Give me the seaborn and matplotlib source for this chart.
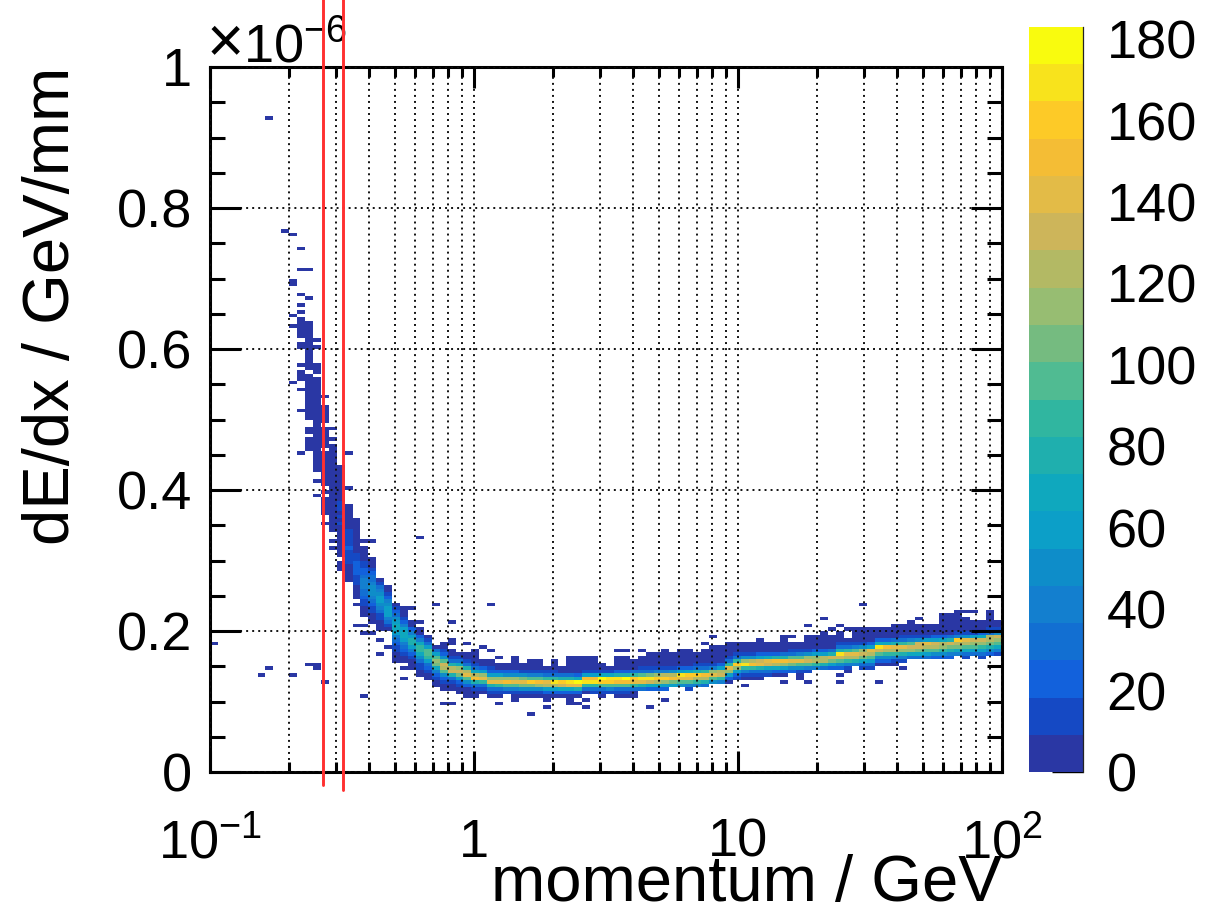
import numpy as np
import pandas as pd
import matplotlib
matplotlib.use('Agg')
import matplotlib.pyplot as plt
import seaborn as sns
from matplotlib.colors import ListedColormap

sns.set_style('white')
plt.rcParams['font.family'] = ['Liberation Sans', 'DejaVu Sans']
plt.rcParams['mathtext.fontset'] = 'custom'
plt.rcParams['mathtext.rm'] = 'Liberation Sans'
plt.rcParams['mathtext.default'] = 'regular'
plt.rcParams['text.color'] = 'black'
plt.rcParams['axes.labelcolor'] = 'black'
plt.rcParams['xtick.color'] = 'black'
plt.rcParams['ytick.color'] = 'black'

# histogram binning, 100 log bins in p and 200 bins in dE/dx (units of 1e-6)
n_xbins = 100
n_ybins = 200

# the band, one entry per momentum bin starting at bin 12
# first row of the column, then counts going upwards
band_first_row = [
    91, 78, 70, 63, 57, 54, 50, 44,                                  # 12-19
    42, 40, 40, 31, 31, 29, 27, 26, 24, 23,                          # 20-29
    23, 22, 21, 21, 22, 21, 21, 22, 20, 21,                          # 30-39
    21, 21, 20, 21, 21, 20, 21, 22, 22, 21,                          # 40-49
    22, 22, 22, 21, 23, 23, 23, 23, 24, 24,                          # 50-59
    23, 24, 24, 25, 25, 25, 26, 26, 26, 26,                          # 60-69
    27, 27, 27, 28, 27, 28, 29, 29, 29, 29,                          # 70-79
    29, 30, 29, 29, 31, 30, 31, 31, 32, 32,                          # 80-89
    32, 32, 32, 32, 33, 32, 33, 32, 33, 33,                          # 90-99
]
band_counts = [
    [2, 3, 2, 3, 0, 1, 2, 0, 0, 3, 4, 3, 2, 3, 4, 3, 2, 3, 4, 3, 5, 3, 0, 4, 3, 3, 4, 2, 3, 3, 4, 2, 3, 3, 4, 3, 2],
    [1, 0, 0, 0, 1, 0, 0, 1, 2, 3, 3, 4, 5, 4, 3, 4, 5, 4, 3, 4, 3, 1, 5, 4, 4, 5, 4, 3, 4, 5, 3, 4, 3, 2, 0, 3, 4, 2, 0, 0, 0, 0, 2, 0, 1],
    [2, 0, 0, 1, 3, 4, 3, 2, 0, 1, 0, 3, 5, 6, 5, 4, 6, 5, 4, 6, 5, 0, 3, 4, 3, 4, 3, 2, 0, 1, 4, 5, 6, 3, 0, 0, 1],
    [1, 0, 1, 0, 0, 2, 4, 5, 6, 5, 6, 7, 6, 7, 6, 8, 7, 7, 8, 6, 7, 6, 5, 6, 5, 4, 3, 2, 3, 2, 0, 1, 0, 0, 1],
    [1, 2, 1, 0, 4, 5, 6, 8, 7, 9, 8, 7, 9, 10, 9, 11, 9, 10, 12, 10, 8, 7, 8, 6, 7, 5, 6, 4, 3, 2],
    [3, 5, 6, 8, 9, 12, 14, 18, 15, 20, 17, 15, 14, 12, 10, 9, 8, 7, 6, 5, 4, 2],
    [2, 4, 6, 10, 14, 18, 22, 25, 24, 22, 12, 10, 9, 8, 6, 5, 4, 3, 4, 3, 2, 1],
    [3, 5, 8, 12, 18, 24, 30, 36, 40, 42, 38, 32, 26, 20, 14, 10, 7, 4, 3, 2],
    [3, 5, 8, 12, 18, 26, 34, 42, 48, 52, 50, 44, 36, 28, 20, 14, 9, 5, 3],
    [3, 4, 7, 11, 18, 28, 38, 48, 56, 58, 52, 42, 30, 18, 8],
    [8, 16, 28, 44, 56, 64, 62, 52, 38, 24, 12, 6, 3],
    [3, 5, 8, 12, 17, 24, 32, 44, 56, 66, 68, 60, 50, 36, 22, 12, 5],
    [3, 6, 11, 19, 30, 44, 60, 72, 70, 56, 38, 22, 12, 5, 3, 1],
    [3, 5, 9, 15, 25, 42, 62, 76, 78, 64, 42, 22, 8, 3],
    [3, 5, 10, 17, 30, 50, 72, 88, 86, 68, 42, 20, 8, 3],
    [3, 5, 10, 19, 36, 60, 86, 100, 92, 64, 34, 14, 4],
    [3, 5, 10, 20, 40, 72, 104, 118, 100, 62, 28, 9],
    [3, 6, 13, 27, 54, 94, 128, 132, 98, 54, 24, 10, 4, 1],
    [4, 8, 16, 34, 76, 134, 124, 76, 36, 14, 6, 2],
    [3, 5, 10, 22, 56, 104, 136, 114, 70, 32, 12, 3],
    [3, 4, 8, 20, 46, 96, 140, 128, 76, 36, 14, 5, 2],
    [3, 5, 12, 30, 76, 150, 122, 66, 30, 12, 5, 3, 1, 1],
    [5, 14, 36, 88, 138, 112, 60, 24, 8, 3],
    [4, 12, 34, 80, 140, 118, 64, 26, 10, 3, 1],
    [4, 12, 36, 86, 142, 116, 60, 24, 9, 3],
    [14, 40, 94, 150, 112, 54, 20, 7, 3],
    [2, 5, 14, 42, 98, 146, 110, 50, 20, 8, 4, 2, 1],
    [5, 16, 46, 102, 142, 104, 46, 16, 6, 2],
    [5, 17, 50, 106, 156, 100, 42, 16, 6, 3, 1],
    [6, 18, 54, 112, 154, 94, 38, 13, 5, 2, 1],
    [2, 6, 20, 60, 124, 146, 86, 34, 10, 3],
    [6, 20, 62, 128, 166, 84, 32, 11, 4, 2, 1],
    [6, 22, 66, 132, 164, 80, 28, 9, 3],
    [3, 7, 22, 70, 138, 172, 78, 28, 9, 4, 2, 1, 1],
    [7, 24, 74, 146, 174, 72, 26, 9, 4, 1, 1],
    [9, 30, 86, 170, 148, 58, 18, 6, 2, 2, 1],
    [10, 32, 90, 166, 150, 60, 18, 5, 2, 2, 1],
    [3, 12, 36, 98, 160, 178, 66, 18, 5, 1],
    [12, 38, 100, 156, 166, 70, 18, 4],
    [10, 36, 96, 150, 170, 76, 24, 8, 3, 2, 1],
    [10, 34, 92, 150, 174, 82, 24, 8, 4, 2, 1],
    [3, 8, 32, 86, 146, 164, 88, 28, 9, 3, 1],
    [30, 80, 138, 170, 96, 30, 10, 4, 2, 1],
    [26, 72, 130, 168, 104, 34, 12, 5, 2, 1, 1],
    [24, 68, 124, 160, 112, 38, 12, 5, 2, 1, 1],
    [20, 62, 116, 158, 120, 44, 14, 6, 3, 2, 1, 1],
    [56, 108, 152, 128, 50, 16, 7, 3, 1, 1],
    [48, 100, 140, 170, 60, 20, 8, 3, 2, 1, 1],
    [14, 42, 92, 138, 156, 66, 24, 9, 4, 2, 1, 1],
    [38, 84, 128, 164, 76, 28, 10, 4, 2, 1],
    [32, 76, 120, 150, 86, 32, 12, 5, 2, 1, 1],
    [54, 100, 144, 110, 44, 15, 5, 2, 1, 1, 1],
    [42, 88, 134, 126, 62, 20, 7, 3, 1, 1, 1],
    [8, 24, 60, 110, 138, 88, 30, 10, 4, 1, 1, 1],
    [10, 26, 60, 110, 160, 84, 34, 12, 4, 2, 1],
    [6, 16, 40, 88, 168, 112, 46, 16, 5, 2, 1],
    [5, 14, 36, 84, 150, 124, 52, 18, 6, 2, 1],
    [5, 12, 32, 78, 140, 134, 58, 20, 7, 2, 1],
    [10, 28, 72, 132, 146, 66, 22, 7, 2, 1],
    [9, 26, 66, 124, 148, 74, 26, 8, 3, 1],
    [8, 24, 60, 118, 150, 82, 30, 9, 3, 2, 1, 1],
    [20, 54, 108, 144, 92, 36, 12, 4, 1],
    [4, 18, 50, 100, 140, 100, 42, 14, 4, 1],
    [16, 44, 92, 134, 110, 48, 16, 5, 2, 1],
    [40, 84, 128, 118, 56, 20, 7, 2, 1, 1],
    [36, 78, 122, 124, 62, 22, 7, 2, 1, 1],
    [26, 62, 106, 134, 76, 28, 8, 3, 1, 1],
    [22, 50, 92, 134, 168, 78, 30, 10, 3, 1, 1],
    [18, 44, 86, 126, 146, 84, 34, 10, 3],
    [40, 80, 120, 142, 92, 38, 12, 5, 2, 1, 1],
    [12, 34, 68, 106, 136, 112, 48, 14, 5, 2, 1, 1],
    [10, 30, 60, 96, 126, 138, 60, 20, 7, 2, 1, 1],
    [22, 54, 92, 130, 170, 66, 22, 7, 2, 1],
    [8, 22, 50, 90, 128, 152, 72, 26, 8, 3, 1],
    [18, 44, 84, 122, 142, 82, 30, 9, 3, 1, 1],
    [16, 40, 78, 116, 138, 90, 34, 10, 3, 1, 1],
    [36, 72, 110, 134, 98, 40, 14, 4, 1, 1, 1],
    [32, 66, 104, 130, 134, 48, 16, 5, 2, 1],
    [28, 60, 98, 124, 138, 56, 18, 5, 2, 1],
    [26, 54, 92, 120, 132, 64, 20, 6, 2, 1],
    [22, 48, 84, 114, 128, 72, 26, 9, 4, 3, 2, 1, 1],
    [20, 44, 78, 108, 130, 80, 28, 9, 4, 3, 2, 1, 1],
    [40, 72, 104, 126, 156, 44, 13, 4, 2, 2, 1, 1, 1],
    [16, 36, 66, 98, 122, 138, 50, 15, 5, 2, 1, 1],
    [32, 60, 92, 116, 134, 58, 18, 5, 2, 1],
    [14, 30, 56, 86, 110, 132, 66, 20, 6, 2, 1],
    [26, 50, 80, 104, 124, 128, 32, 12, 4, 2, 1, 1, 1],
    [16, 40, 72, 98, 118, 134, 50, 16, 5, 2],
]
assert len(band_first_row) == len(band_counts) == 88

# isolated bins away from the band
stray_col = [0, 6, 7, 7, 9, 10, 10, 10, 10, 10, 10, 10, 11, 11, 11, 11, 11, 11, 11, 11, 11, 11,
             11, 11, 11, 11, 11, 11, 11, 11, 11, 11, 12, 12, 12, 13, 13, 14, 17, 17, 18, 18, 18,
             18, 19, 19, 19, 19, 20, 20, 21, 21, 22, 24, 24, 25, 26, 26, 28, 29, 30, 30, 30, 30,
             32, 34, 35, 35, 36, 36, 40, 42, 45, 46, 46, 47, 47, 51, 51, 52, 52, 54, 55, 57, 62,
             63, 67, 69, 72, 73, 74, 75, 75, 75, 77, 77, 78, 79, 79, 79, 80, 80, 82, 84, 84, 86,
             87, 89, 95, 96]
stray_row = [36, 27, 29, 185, 153, 27, 110, 126, 129, 138, 139, 152, 90, 102, 108, 111, 112, 113,
             115, 120, 121, 123, 124, 125, 126, 127, 128, 130, 132, 135, 142, 148, 30, 134, 142,
             30, 29, 25, 80, 90, 51, 49, 47, 41, 21, 65, 41, 39, 65, 39, 37, 33, 35, 29, 26, 46,
             66, 42, 47, 19, 42, 36, 37, 19, 36, 35, 34, 47, 32, 19, 16, 18, 19, 19, 32, 20, 18,
             21, 34, 21, 34, 34, 18, 20, 36, 38, 24, 37, 25, 38, 26, 38, 41, 25, 39, 43, 40, 41,
             27, 25, 40, 28, 47, 30, 25, 30, 29, 43, 45, 45]
stray_count = [2, 2, 2, 1, 1, 3, 4, 3, 2, 4, 4, 3, 2, 1, 3, 4, 3, 2, 2, 3, 3, 3, 4, 3, 4, 2, 3, 3,
               3, 3, 2, 3, 3, 1, 1, 4, 3, 3, 1, 1, 1, 1, 1, 2, 3, 1, 2, 1, 1, 2, 1, 1, 2, 1, 3, 2,
               1, 2, 2, 1, 3, 3, 2, 1, 3, 3, 3, 2, 2, 1, 1, 2, 2, 3, 2, 1, 3, 1, 2, 1, 3, 3, 3, 2,
               1, 2, 1, 1, 3, 3, 3, 3, 3, 3, 1, 1, 1, 3, 1, 3, 3, 3, 1, 1, 3, 1, 2, 1, 1, 1]

# vertical cuts in GeV
cut_low = 0.268
cut_high = 0.319

y_ticks = [0, 0.2, 0.4, 0.6, 0.8, 1.0]
y_tick_labels = ['0', '0.2', '0.4', '0.6', '0.8', '1']
y_minor_ticks = [0.05, 0.1, 0.15, 0.25, 0.3, 0.35, 0.45, 0.5, 0.55, 0.65, 0.7, 0.75, 0.85, 0.9, 0.95]
x_ticks = [0.1, 1, 10, 100]
x_tick_labels = [r'$\mathdefault{10^{-1}}$', '1', '10', r'$\mathdefault{10^{2}}$']
x_minor_ticks = [0.2, 0.3, 0.4, 0.5, 0.6, 0.7, 0.8, 0.9, 2, 3, 4, 5, 6, 7, 8, 9,
                 20, 30, 40, 50, 60, 70, 80, 90]
z_ticks = [0, 20, 40, 60, 80, 100, 120, 140, 160, 180]
z_max = 183

bird_colours = ['#2a37a4', '#1549c4', '#1261dc', '#126fd2', '#137fcf', '#0e8dc9', '#0c9fc8',
                '#0fa8be', '#1fafae', '#30b6a0', '#50bb92', '#75bb80', '#97bd72', '#b3b964',
                '#cdb55a', '#e3bb47', '#f4bd35', '#fdca27', '#f8e31c', '#f9fb0e']

# expand to one row per filled bin
cols, rows, counts = [], [], []
for col, (first, column) in enumerate(zip(band_first_row, band_counts), start=12):
    for row, count in enumerate(column, start=first):
        if count > 0:
            cols.append(col)
            rows.append(row)
            counts.append(count)
cols += stray_col
rows += stray_row
counts += stray_count

df = pd.DataFrame({'col': cols, 'row': rows, 'count': counts})
df['momentum'] = 10 ** (-1 + 3 * (df['col'] + 0.5) / n_xbins)
df['dedx'] = (df['row'] + 0.5) / n_ybins

W, H = 1211, 914
fig = plt.figure(figsize=(W / 100, H / 100), dpi=100)
ax = fig.add_axes([210 / W, (H - 772) / H, 792 / W, 705 / H])
cax = fig.add_axes([1029 / W, (H - 772) / H, 54 / W, 745 / H])

sns.histplot(data=df, x='momentum', y='dedx', weights='count', bins=(n_xbins, n_ybins),
             binrange=((-1, 2), (0, 1)), log_scale=(True, False), ax=ax,
             cmap=ListedColormap(bird_colours), vmin=0, vmax=z_max, thresh=0,
             cbar=True, cbar_ax=cax)

ax.set_xlim(0.1, 100)
ax.set_ylim(0, 1)

# dotted grid sits on top of the histogram
ax.set_axisbelow(False)
ax.set_xticks(x_ticks, labels=x_tick_labels)
ax.set_xticks(x_minor_ticks, minor=True, labels=[])
ax.set_yticks(y_ticks, labels=y_tick_labels)
ax.set_yticks(y_minor_ticks, minor=True, labels=[])
ax.grid(False)
ax.grid(True, which='both', axis='x', color='#111111', linestyle=(0, (1, 2.1)), linewidth=1.4)
ax.grid(True, which='major', axis='y', color='#111111', linestyle=(0, (1, 2.1)), linewidth=1.4)

ax.tick_params(axis='x', which='major', direction='in', top=True, bottom=True, length=15, width=2.2,
               labelsize=39, pad=33)
ax.tick_params(axis='x', which='minor', direction='in', top=True, bottom=True, length=7.5, width=2.2)
ax.tick_params(axis='y', which='major', direction='in', left=True, right=True, length=22, width=2.2,
               labelsize=39, pad=13)
ax.tick_params(axis='y', which='minor', direction='in', left=True, right=True, length=11, width=2.2)
for spine in ax.spines.values():
    spine.set_visible(True)
    spine.set_color('black')
    spine.set_linewidth(2.2)

ax.set_xlabel('momentum / GeV', fontsize=47, ha='right')
ax.xaxis.set_label_coords(1.0, -0.117, transform=ax.transAxes)
ax.xaxis.label.set_va('top')
ax.set_ylabel('dE/dx / GeV/mm', fontsize=47, ha='right')
ax.yaxis.set_label_coords(-0.162, 1.0, transform=ax.transAxes)

# multiplier is two pieces, mathtext draws the cross too small
ax.text(-0.004, 1.007, '\u00d7', transform=ax.transAxes, fontsize=46, ha='left', va='baseline')
ax.text(0.042, 1.007, r'$10^{-6}$', transform=ax.transAxes, fontsize=39, ha='left', va='baseline')

# the two cut lines run past the frame
ax.plot([cut_low, cut_low], [-0.018, 1.1], color='#ff3030', linewidth=2.1, clip_on=False, zorder=6)
ax.plot([cut_high, cut_high], [-0.025, 1.1], color='#ff3030', linewidth=2.1, clip_on=False, zorder=6)

cax.set_yticks(z_ticks, labels=[str(z) for z in z_ticks])
cax.tick_params(axis='y', direction='in', right=True, left=False, length=22, width=1.0,
                labelsize=39, pad=17)
for name, spine in cax.spines.items():
    spine.set_visible(name == 'right')
    spine.set_linewidth(0.9)
    spine.set_color('#222222')

fig.savefig('out.png', dpi=100)
